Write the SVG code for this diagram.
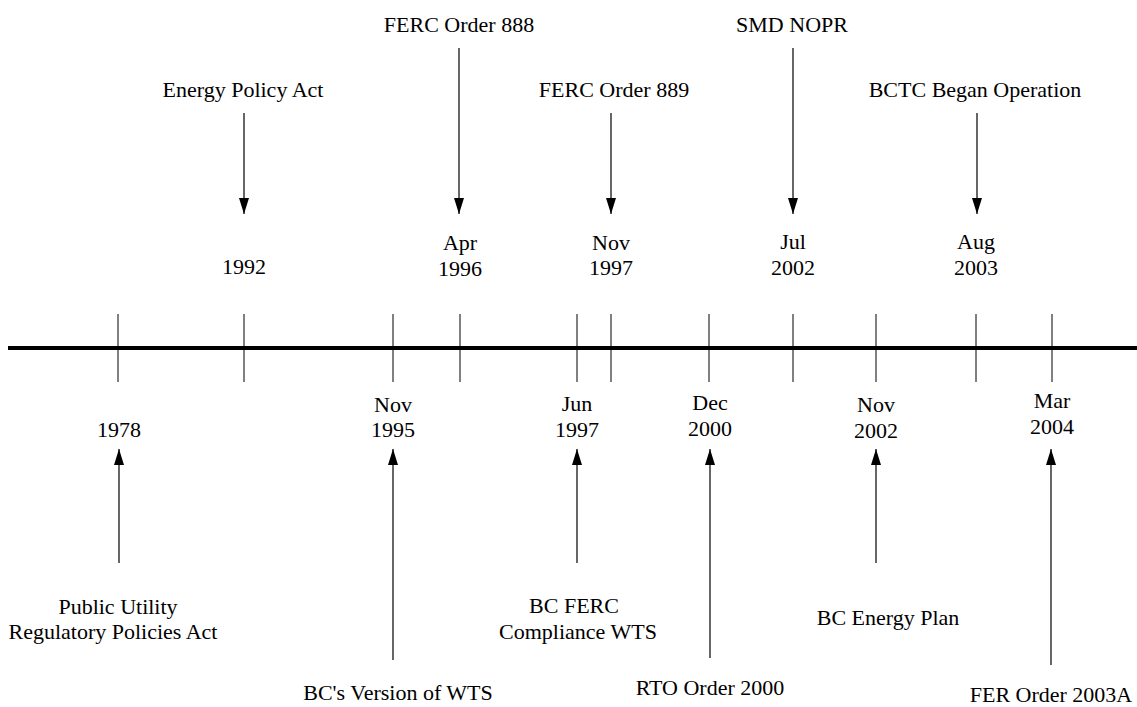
<svg xmlns="http://www.w3.org/2000/svg" width="1137" height="707" viewBox="0 0 1137 707">
<style>
text{font-family:"Liberation Serif","Times New Roman",serif;font-size:22px;fill:#000;text-anchor:middle}
.ln{stroke:#000;stroke-width:1.2;fill:none}
.tick{stroke:#000;stroke-width:1}
.axis{stroke:#000;stroke-width:4}
</style>
<defs>
<marker id="ah" viewBox="0 0 10 16" refX="10" refY="5" markerWidth="10" markerHeight="16" orient="auto" markerUnits="userSpaceOnUse">
<path d="M0,0 L16,5 L0,10 Z" fill="#000"/>
</marker>
<marker id="head" viewBox="0 0 16 10" refX="16" refY="5" markerWidth="16" markerHeight="10" orient="auto" markerUnits="userSpaceOnUse">
<path d="M0,0 L16,5 L0,10 Z" fill="#000"/>
</marker>
</defs>
<rect width="1137" height="707" fill="#fff"/>
<g id="axis">
<line class="axis" x1="8" y1="348" x2="1137" y2="348"/>
<line class="tick" x1="118" y1="314" x2="118" y2="382"/>
<line class="tick" x1="244" y1="314" x2="244" y2="382"/>
<line class="tick" x1="393" y1="314" x2="393" y2="382"/>
<line class="tick" x1="460" y1="314" x2="460" y2="382"/>
<line class="tick" x1="577" y1="314" x2="577" y2="382"/>
<line class="tick" x1="611" y1="314" x2="611" y2="382"/>
<line class="tick" x1="709" y1="314" x2="709" y2="382"/>
<line class="tick" x1="793" y1="314" x2="793" y2="382"/>
<line class="tick" x1="876" y1="314" x2="876" y2="382"/>
<line class="tick" x1="976" y1="314" x2="976" y2="382"/>
<line class="tick" x1="1052" y1="314" x2="1052" y2="382"/>
</g>
<g id="connectors">
<line class="ln" x1="244" y1="113" x2="244" y2="214" marker-end="url(#head)"/>
<line class="ln" x1="459" y1="48" x2="459" y2="214" marker-end="url(#head)"/>
<line class="ln" x1="611" y1="113" x2="611" y2="214" marker-end="url(#head)"/>
<line class="ln" x1="793" y1="48" x2="793" y2="214" marker-end="url(#head)"/>
<line class="ln" x1="977" y1="113" x2="977" y2="214" marker-end="url(#head)"/>
<line class="ln" x1="119" y1="563" x2="119" y2="449" marker-end="url(#head)"/>
<line class="ln" x1="393" y1="660" x2="393" y2="449" marker-end="url(#head)"/>
<line class="ln" x1="577" y1="563" x2="577" y2="449" marker-end="url(#head)"/>
<line class="ln" x1="710" y1="658" x2="710" y2="449" marker-end="url(#head)"/>
<line class="ln" x1="876" y1="563" x2="876" y2="449" marker-end="url(#head)"/>
<line class="ln" x1="1051" y1="665" x2="1051" y2="449" marker-end="url(#head)"/>
</g>
<g id="ev-1992">
<text x="243" y="97">Energy Policy Act</text>
<text x="244" y="274">1992</text>
</g>
<g id="ev-apr1996">
<text x="459" y="32">FERC Order 888</text>
<text x="460" y="250">Apr</text>
<text x="460" y="276">1996</text>
</g>
<g id="ev-nov1997">
<text x="614" y="97">FERC Order 889</text>
<text x="611" y="250">Nov</text>
<text x="611" y="275">1997</text>
</g>
<g id="ev-jul2002">
<text x="792" y="32">SMD NOPR</text>
<text x="793" y="249">Jul</text>
<text x="793" y="275">2002</text>
</g>
<g id="ev-aug2003">
<text x="975" y="97">BCTC Began Operation</text>
<text x="976" y="249">Aug</text>
<text x="976" y="275">2003</text>
</g>
<g id="ev-1978">
<text x="119" y="437">1978</text>
<text x="118" y="614">Public Utility</text>
<text x="113" y="639">Regulatory Policies Act</text>
</g>
<g id="ev-nov1995">
<text x="393" y="412">Nov</text>
<text x="393" y="437">1995</text>
<text x="398" y="700">BC's Version of WTS</text>
</g>
<g id="ev-jun1997">
<text x="577" y="411">Jun</text>
<text x="577" y="437">1997</text>
<text x="574" y="613">BC FERC</text>
<text x="578" y="639">Compliance WTS</text>
</g>
<g id="ev-dec2000">
<text x="710" y="410">Dec</text>
<text x="710" y="436">2000</text>
<text x="710" y="695">RTO Order 2000</text>
</g>
<g id="ev-nov2002">
<text x="876" y="412">Nov</text>
<text x="876" y="438">2002</text>
<text x="888" y="625">BC Energy Plan</text>
</g>
<g id="ev-mar2004">
<text x="1052" y="408">Mar</text>
<text x="1052" y="434">2004</text>
<text x="1051" y="702">FER Order 2003A</text>
</g>
</svg>
